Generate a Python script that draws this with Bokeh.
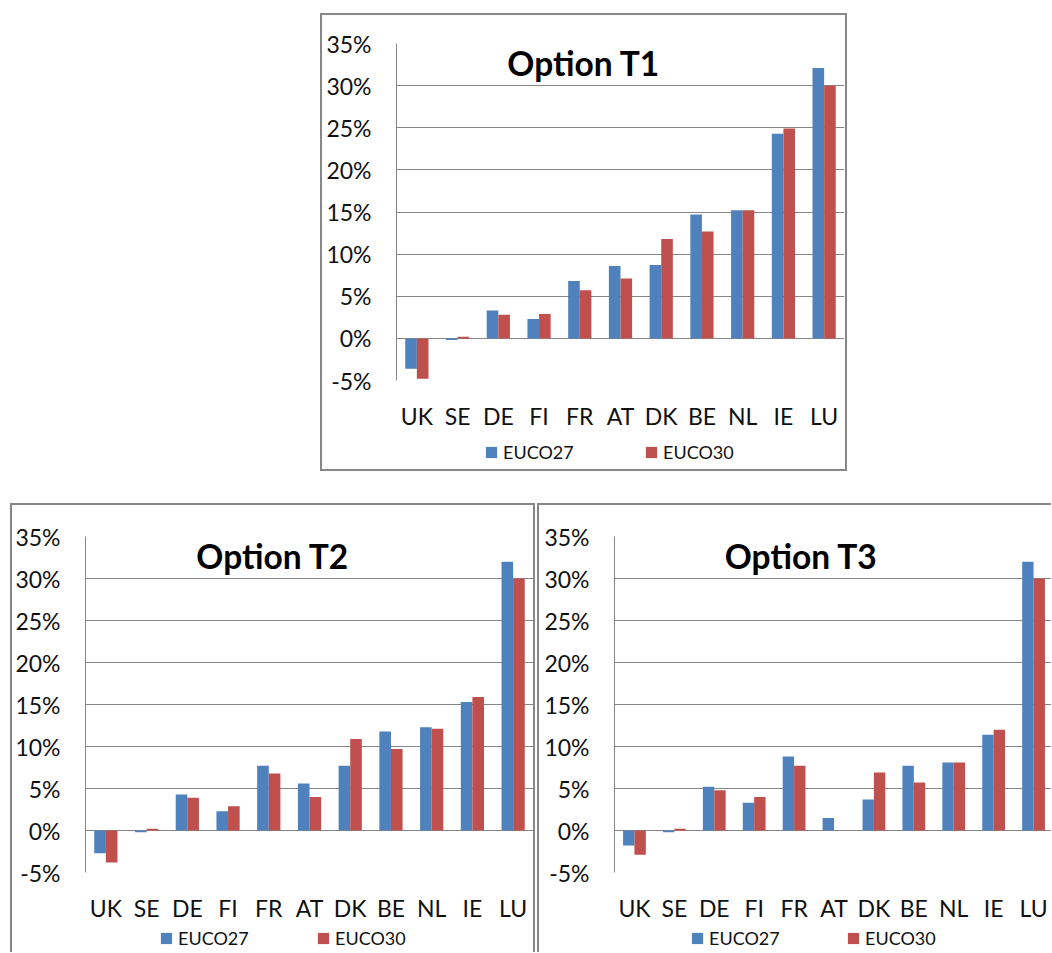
from bokeh.plotting import figure
from bokeh.models import (ColumnDataSource, Range1d, FixedTicker, PrintfTickFormatter,
                          Label, Legend, LegendItem, Spacer)
from bokeh.layouts import column, row
from bokeh.transform import dodge
from bokeh.embed import file_html
from bokeh.resources import INLINE

countries = ["UK", "SE", "DE", "FI", "FR", "AT", "DK", "BE", "NL", "IE", "LU"]
series_names = ["EUCO27", "EUCO30"]
y_ticks = [-5, 0, 5, 10, 15, 20, 25, 30, 35]

t1_euco27 = [-3.6, -0.2, 3.3, 2.3, 6.8, 8.6, 8.7, 14.7, 15.2, 24.3, 32.1]
t1_euco30 = [-4.8, 0.2, 2.8, 2.9, 5.7, 7.1, 11.8, 12.7, 15.2, 24.9, 30.0]
t2_euco27 = [-2.7, -0.2, 4.3, 2.3, 7.7, 5.6, 7.7, 11.8, 12.3, 15.3, 32.0]
t2_euco30 = [-3.8, 0.2, 3.9, 2.9, 6.8, 4.0, 10.9, 9.7, 12.1, 15.9, 30.0]
t3_euco27 = [-1.8, -0.2, 5.2, 3.3, 8.8, 1.5, 3.7, 7.7, 8.1, 11.4, 32.0]
t3_euco30 = [-2.9, 0.2, 4.8, 4.0, 7.7, 0.0, 6.9, 5.7, 8.1, 12.0, 30.0]

BLUE = "#4F81BD"
RED = "#C0504D"
GRID = "#868686"
BORDER = "#878787"
FONT = "Lato"
B = f"2px solid {BORDER}"


def borders(sides):
    return {f"border-{s}": B for s in sides}


def add_bars(p, src):
    r1 = p.vbar(x=dodge("x", -0.1425, range=p.x_range), top="e27", bottom=0, width=0.285,
                source=src, fill_color=BLUE, line_color=None)
    r2 = p.vbar(x=dodge("x", 0.1425, range=p.x_range), top="e30", bottom=0, width=0.285,
                source=src, fill_color=RED, line_color=None)
    return r1, r2


def make_chart(title, src, width, height, mbl, mbr, mbt, mbb, title_x, sides):
    p = figure(x_range=countries, y_range=Range1d(-5, 35), width=width, height=height,
               output_backend="svg", toolbar_location=None, tools="",
               min_border_left=mbl, min_border_right=mbr,
               min_border_top=mbt, min_border_bottom=mbb,
               background_fill_color="white", border_fill_color="white",
               outline_line_color=None, styles=borders(sides))
    add_bars(p, src)

    p.xgrid.grid_line_color = None
    p.ygrid.grid_line_color = GRID
    p.ygrid.grid_line_width = 1
    p.yaxis.ticker = FixedTicker(ticks=y_ticks)
    p.yaxis.formatter = PrintfTickFormatter(format="%d%%")
    p.yaxis.axis_line_color = GRID
    p.yaxis.major_label_standoff = 25
    p.xaxis.axis_line_color = None
    p.xaxis.major_label_standoff = 21
    for ax in (p.xaxis, p.yaxis):
        ax.major_tick_line_color = None
        ax.minor_tick_line_color = None
        ax.major_tick_out = 0
        ax.major_tick_in = 0
        ax.major_label_text_font = FONT
        ax.major_label_text_font_size = "23px"
        ax.major_label_text_color = "#111111"

    p.add_layout(Label(x=title_x, y=32.7, text=title, text_font=FONT, text_font_style="bold",
                       text_font_size="33.5px", text_align="center",
                       text_baseline="alphabetic", text_color="#000000"))
    return p


def make_legend(src, width, height, leg_x, leg_y, pitch, sides):
    # legend strip under the chart; its bars share the chart data but lie outside its range
    lf = figure(x_range=countries, y_range=Range1d(40, 41), width=width, height=height,
                x_axis_type=None, y_axis_type=None, output_backend="svg",
                toolbar_location=None, tools="", min_border=0,
                outline_line_color=None, background_fill_color="white",
                border_fill_color="white", styles=borders(sides))
    lf.xgrid.grid_line_color = None
    lf.ygrid.grid_line_color = None
    r1, r2 = add_bars(lf, src)
    label_w = 75
    gw, gs = 14, 5
    legend = Legend(items=[LegendItem(label=series_names[0], renderers=[r1]),
                           LegendItem(label=series_names[1], renderers=[r2])],
                    location=(leg_x, leg_y), orientation="horizontal",
                    background_fill_alpha=0, border_line_color=None,
                    padding=0, margin=0, spacing=pitch - gw - gs - label_w,
                    glyph_width=gw, glyph_height=14,
                    label_standoff=gs, label_width=label_w, label_height=14,
                    label_text_font=FONT, label_text_font_size="18px",
                    label_text_color="#111111")
    lf.add_layout(legend)
    return lf


s1 = ColumnDataSource(dict(x=countries, e27=t1_euco27, e30=t1_euco30))
s2 = ColumnDataSource(dict(x=countries, e27=t2_euco27, e30=t2_euco30))
s3 = ColumnDataSource(dict(x=countries, e27=t3_euco27, e30=t3_euco30))

p1 = make_chart("Option T1", s1, 527, 417, 74, 5, 28, 52, 4.6, ["top", "left", "right"])
l1 = make_legend(s1, 527, 41, 88, 8, 160, ["left", "right", "bottom"])
p2 = make_chart("Option T2", s2, 525, 419, 73, 4, 31, 52, 4.6, ["top", "left", "right"])
l2 = make_legend(s2, 525, 30, 74, 3, 157, ["left", "right"])
p3 = make_chart("Option T3", s3, 514, 419, 75, 0, 31, 52, 4.68, ["top", "left"])
l3 = make_legend(s3, 514, 30, 76, 3, 156, ["left"])

layout = column(
    Spacer(height=13),
    row(Spacer(width=320), column(p1, l1)),
    Spacer(height=32),
    row(Spacer(width=10), column(p2, l2), Spacer(width=2), column(p3, l3)),
)

open("out.html", "w").write(file_html(layout, INLINE))
